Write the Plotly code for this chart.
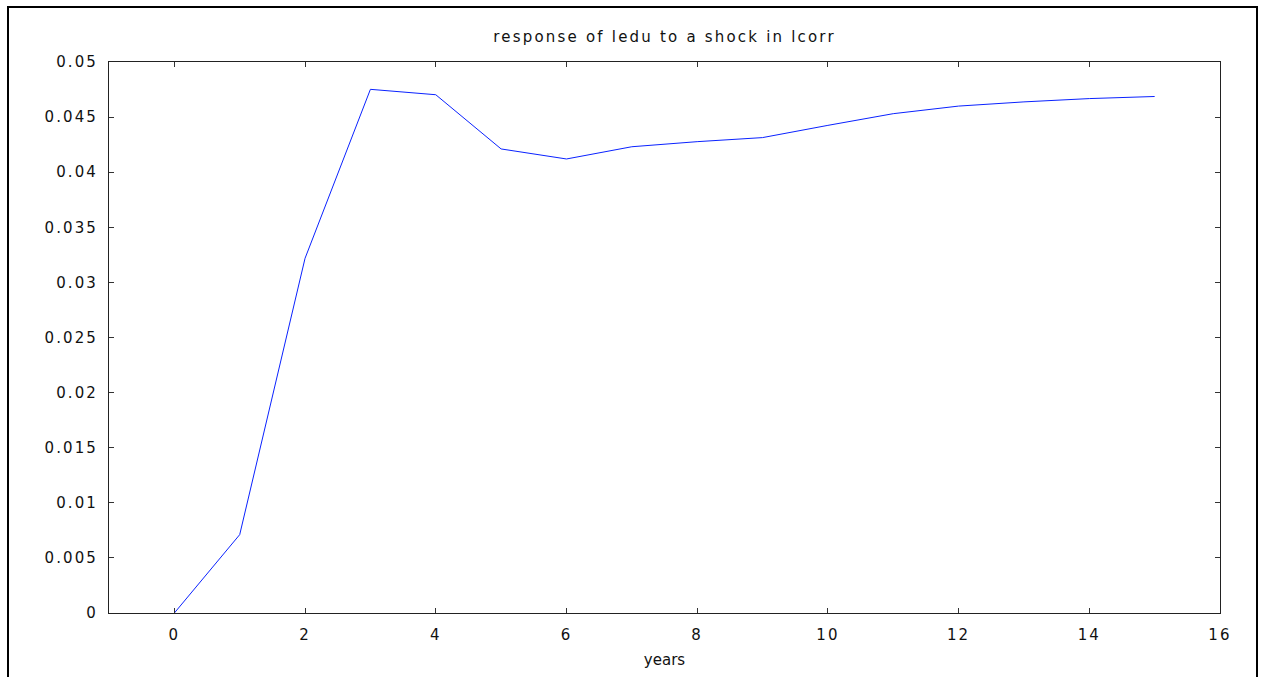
import plotly.graph_objects as go

years = [0, 1, 2, 3, 4, 5, 6, 7, 8, 9, 10, 11, 12, 13, 14, 15]
response = [0.0, 0.00711, 0.03219, 0.04752, 0.04703, 0.04211, 0.04120, 0.04231,
            0.04277, 0.04314, 0.04425, 0.04531, 0.04600, 0.04638, 0.04668, 0.04687]

x_tick_vals = [0, 2, 4, 6, 8, 10, 12, 14, 16]
x_tick_text = ["0", "2", "4", "6", "8", "10", "12", "14", "16"]
y_tick_vals = [0, 0.005, 0.01, 0.015, 0.02, 0.025, 0.03, 0.035, 0.04, 0.045, 0.05]
y_tick_text = ["0", "0.005", "0.01", "0.015", "0.02", "0.025", "0.03", "0.035",
               "0.04", "0.045", "0.05"]

title_text = "response of ledu to a shock in lcorr"
x_title = "years"

FONT = "DejaVu Sans, Verdana, sans-serif"


def spaced(s, px):
    return f'<span style="letter-spacing:{px}px">{s}</span>'


fig = go.Figure()
fig.add_trace(go.Scatter(x=years, y=response, mode="lines",
                         line=dict(color="#0a22ff", width=1), showlegend=False,
                         hoverinfo="skip"))

axis_common = dict(
    showgrid=False, zeroline=False, showline=True, linecolor="#222", linewidth=1,
    mirror="ticks", ticks="inside", ticklen=5, tickcolor="#333", tickwidth=1,
    tickfont=dict(family=FONT, size=15, color="#111"),
)

fig.update_layout(
    width=1261, height=677,
    margin=dict(l=109, r=41, t=62, b=64),
    paper_bgcolor="white", plot_bgcolor="white",
    title=dict(text=spaced(title_text, 2.2), x=0.527, xanchor="center", y=1 - 37 / 677,
               yanchor="middle", font=dict(family=FONT, size=15, color="#111")),
    xaxis=dict(range=[-1, 16], tickmode="array", tickvals=x_tick_vals,
               ticktext=[spaced(t, 2.1) for t in x_tick_text],
               ticklabelstandoff=8,
               title=dict(text=x_title, font=dict(family=FONT, size=15, color="#111"),
                          standoff=11),
               **axis_common),
    yaxis=dict(range=[0, 0.05], tickmode="array", tickvals=y_tick_vals,
               ticktext=[spaced(t, 2.1) for t in y_tick_text],
               ticklabelstandoff=7, **axis_common),
    shapes=[dict(type="rect", xref="paper", yref="paper",
                 x0=(8 - 109) / 1111, x1=(1257 - 109) / 1111,
                 y0=(613 - 700) / 551, y1=(613 - 7) / 551,
                 line=dict(color="black", width=2), fillcolor="rgba(0,0,0,0)",
                 layer="above")],
)

fig.write_html("out.html")
